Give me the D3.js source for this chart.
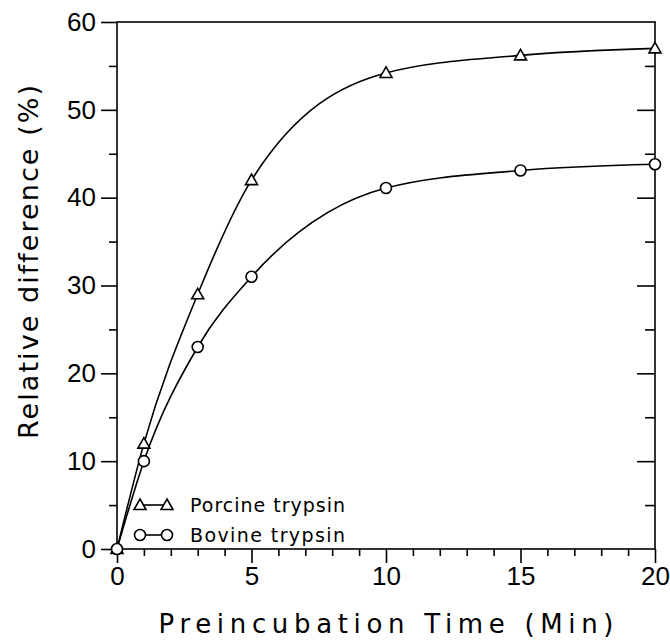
<!DOCTYPE html>
<html>
<head>
<meta charset="utf-8">
<script src="https://cdn.jsdelivr.net/npm/d3@7"></script>
<style>
  html, body { margin: 0; padding: 0; background: #fff; }
  svg { display: block; }
  text { font-family: "Liberation Sans", Arial, sans-serif; fill: #000; }
  .thin { font-family: "DejaVu Sans", sans-serif; font-weight: 400; font-variant-ligatures: none; }
</style>
</head>
<body>
<svg id="chart" width="670" height="641"></svg>
<script>
// ---- data ----
const times = [0, 1, 3, 5, 10, 15, 20];
const porcine = [0, 12, 29, 42, 54.2, 56.2, 57];
const bovine = [0, 10, 23, 31, 41.1, 43.1, 43.8];
const seriesNames = ["Porcine trypsin", "Bovine trypsin"];
const xMajorTicks = [0, 5, 10, 15, 20];
const yMajorTicks = [0, 10, 20, 30, 40, 50, 60];
const xTitle = "Preincubation Time (Min)";
const yTitle = "Relative difference (%)";

(function () {
// ---- layout ----
const mLeft = 117, mRight = 655, mTop = 22, mBottom = 549;
const svg = d3.select("#chart");

const x = d3.scaleLinear().domain([0, 20]).range([mLeft, mRight]);
const y = d3.scaleLinear().domain([0, 60]).range([mBottom, mTop]);

const black = "#000";
const sw = 1.6;

// frame
svg.append("rect").attr("x", mLeft).attr("y", mTop)
  .attr("width", mRight - mLeft).attr("height", mBottom - mTop)
  .attr("fill", "none").attr("stroke", black).attr("stroke-width", sw);

// bottom axis: minor ticks each 1, major each 5
const xMinor = d3.range(0, 21, 1).filter(v => v % 5 !== 0);
svg.append("g").attr("transform", `translate(0,${mBottom})`)
  .call(d3.axisBottom(x).tickValues(xMinor).tickSize(7).tickFormat(""))
  .call(g => g.select(".domain").remove())
  .call(g => g.selectAll("line").attr("stroke-width", sw));
svg.append("g").attr("transform", `translate(0,${mBottom})`)
  .call(d3.axisBottom(x).tickValues(xMajorTicks).tickSize(14).tickPadding(4).tickFormat(d3.format("d")))
  .call(g => g.select(".domain").remove())
  .call(g => g.selectAll("line").attr("stroke-width", sw))
  .call(g => g.selectAll("text").attr("font-size", 26).attr("font-family", "Liberation Sans, Arial, sans-serif").attr("fill", black));

// left axis: minor at 5s outward, major 10s outward
const yMinor = d3.range(5, 60, 10);
svg.append("g").attr("transform", `translate(${mLeft},0)`)
  .call(d3.axisLeft(y).tickValues(yMinor).tickSize(8).tickFormat(""))
  .call(g => g.select(".domain").remove())
  .call(g => g.selectAll("line").attr("stroke-width", sw));
svg.append("g").attr("transform", `translate(${mLeft},0)`)
  .call(d3.axisLeft(y).tickValues(yMajorTicks).tickSize(16).tickPadding(5).tickFormat(d3.format("d")))
  .call(g => g.select(".domain").remove())
  .call(g => g.selectAll("line").attr("stroke-width", sw))
  .call(g => g.selectAll("text").attr("font-size", 26).attr("font-family", "Liberation Sans, Arial, sans-serif").attr("fill", black));

// right axis: inward ticks
svg.append("g").attr("transform", `translate(${mRight},0)`)
  .call(d3.axisRight(y).tickValues(yMinor).tickSize(-10).tickFormat(""))
  .call(g => g.select(".domain").remove())
  .call(g => g.selectAll("line").attr("stroke-width", sw));
svg.append("g").attr("transform", `translate(${mRight},0)`)
  .call(d3.axisRight(y).tickValues(yMajorTicks.slice(1, -1)).tickSize(-18).tickFormat(""))
  .call(g => g.select(".domain").remove())
  .call(g => g.selectAll("line").attr("stroke-width", sw));

// curves
const lineGen = d3.line().x(d => x(d[0])).y(d => y(d[1])).curve(d3.curveMonotoneX);
[porcine, bovine].forEach(vals => {
  const pts = times.map((t, i) => [t, vals[i]]);
  svg.append("path").datum(pts).attr("d", lineGen)
    .attr("fill", "none").attr("stroke", black).attr("stroke-width", sw);
});

function triangle(g, cx, cy) {
  const s = 6;
  g.append("path")
    .attr("d", `M${cx},${cy - s} L${cx + s},${cy + s * 0.75} L${cx - s},${cy + s * 0.75} Z`)
    .attr("fill", "#fff").attr("stroke", black).attr("stroke-width", sw);
}
function circle(g, cx, cy) {
  g.append("circle").attr("cx", cx).attr("cy", cy).attr("r", 5.5)
    .attr("fill", "#fff").attr("stroke", black).attr("stroke-width", sw);
}

const gm = svg.append("g");
times.forEach((t, i) => triangle(gm, x(t), y(porcine[i])));
times.forEach((t, i) => circle(gm, x(t), y(bovine[i])));

// legend
const lg = svg.append("g");
const legRows = [{ yy: 505, marker: triangle, name: seriesNames[0] }, { yy: 535, marker: circle, name: seriesNames[1] }];
legRows.forEach(r => {
  lg.append("line").attr("x1", 140).attr("x2", 167).attr("y1", r.yy).attr("y2", r.yy)
    .attr("stroke", black).attr("stroke-width", sw);
  r.marker(lg, 140, r.yy);
  r.marker(lg, 167, r.yy);
  lg.append("text").attr("class", "thin").attr("x", 190).attr("y", r.yy + 7)
    .attr("font-size", 19).attr("textLength", 155).attr("lengthAdjust", "spacing")
    .text(r.name);
});

// axis titles
svg.append("text").attr("class", "thin").attr("x", (mLeft + mRight) / 2).attr("y", 633)
  .attr("text-anchor", "middle").attr("font-size", 26)
  .attr("textLength", 455).attr("lengthAdjust", "spacing").text(xTitle);
svg.append("text").attr("class", "thin").attr("transform", `translate(38,262) rotate(-90)`)
  .attr("text-anchor", "middle").attr("font-size", 27)
  .attr("textLength", 354).attr("lengthAdjust", "spacing").text(yTitle);
})();
</script>
</body>
</html>
